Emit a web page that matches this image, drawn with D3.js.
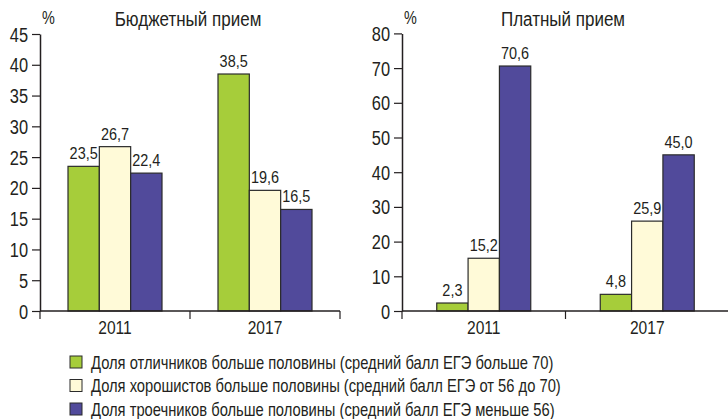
<!DOCTYPE html>
<html>
<head>
<meta charset="utf-8">
<script src="https://cdn.jsdelivr.net/npm/d3@7"></script>
<style>
  body { margin: 0; background: #fff; }
  text { font-family: "Liberation Sans Narrow", "Arial Narrow", "Liberation Sans", sans-serif; fill: #231f20; }
</style>
</head>
<body>
<div id="chart"></div>
<script>
var years = ["2011", "2017"];
var seriesNames = [
  "Доля отличников больше половины (средний балл ЕГЭ больше 70)",
  "Доля хорошистов больше половины (средний балл ЕГЭ от 56 до 70)",
  "Доля троечников больше половины (средний балл ЕГЭ меньше 56)"
];
var colors = ["#a6cd3a", "#fffad8", "#514a9b"];

// values per year: [отличники, хорошисты, троечники]
var budget = [[23.5, 26.7, 22.4], [38.5, 19.6, 16.5]];
var paid = [[2.3, 15.2, 70.6], [4.8, 25.9, 45.0]];

var budgetTicks = [0, 5, 10, 15, 20, 25, 30, 35, 40, 45];
var paidTicks = [0, 10, 20, 30, 40, 50, 60, 70, 80];

var svg = d3.select("#chart").append("svg")
  .attr("width", 728)
  .attr("height", 419);

function fmt(v) {
  return v.toFixed(1).replace(".", ",");
}

// no narrow font installed, so squeeze labels horizontally
function squeeze(sel, k) {
  sel.each(function () {
    var len = this.getComputedTextLength();
    d3.select(this)
      .attr("textLength", len * k)
      .attr("lengthAdjust", "spacingAndGlyphs");
  });
}

function drawPanel(opts) {
  var x = d3.scaleBand().domain(years).range([opts.x0, opts.x1]);
  var inner = d3.scaleBand().domain([0, 1, 2])
    .range([x.bandwidth() / 2 - 47, x.bandwidth() / 2 + 47]);
  var y = d3.scaleLinear().domain([0, opts.max]).range([311, opts.top]);

  var g = svg.append("g");

  // y axis
  var yAxis = g.append("g")
    .attr("transform", "translate(" + opts.x0 + ",0)")
    .call(d3.axisLeft(y).tickValues(opts.ticks).tickSize(8).tickPadding(4).tickSizeOuter(0));
  yAxis.select(".domain").attr("stroke", "#231f20").attr("stroke-width", 1.5);
  yAxis.selectAll(".tick line").attr("stroke", "#231f20").attr("stroke-width", 1.2);
  yAxis.selectAll(".tick text")
    .style("font-size", "20px")
    .attr("font-family", null)
    .attr("dy", "0.35em")
    .call(squeeze, 0.82);

  // bars
  var groups = g.selectAll(".grp")
    .data(years)
    .enter().append("g")
    .attr("transform", function (d) { return "translate(" + x(d) + ",0)"; });

  groups.selectAll("rect")
    .data(function (d, i) { return opts.data[i]; })
    .enter().append("rect")
    .attr("x", function (d, i) { return inner(i); })
    .attr("width", inner.bandwidth())
    .attr("y", function (d) { return y(d); })
    .attr("height", function (d) { return y(0) - y(d); })
    .attr("fill", function (d, i) { return colors[i]; })
    .attr("stroke", "#2b2b2b")
    .attr("stroke-width", 1.2);

  groups.selectAll(".val")
    .data(function (d, i) { return opts.data[i]; })
    .enter().append("text")
    .attr("class", "val")
    .attr("x", function (d, i) { return inner(i) + inner.bandwidth() / 2; })
    .attr("y", function (d) { return y(d) - 7; })
    .attr("text-anchor", "middle")
    .style("font-size", "17px")
    .text(fmt)
    .call(squeeze, 0.85);

  // x axis
  var xAxis = g.append("g")
    .attr("transform", "translate(0,311)")
    .call(d3.axisBottom(x).tickSize(0).tickPadding(10));
  xAxis.select(".domain").remove();
  xAxis.selectAll(".tick text")
    .attr("font-family", null)
    .style("font-size", "19px")
    .call(squeeze, 0.82);
  xAxis.append("line")
    .attr("x1", opts.x0).attr("x2", opts.x1)
    .attr("stroke", "#231f20").attr("stroke-width", 1.5);
  xAxis.selectAll(".sep")
    .data(years.map(function (d) { return x(d); }).concat([opts.x1]))
    .enter().append("line")
    .attr("x1", function (d) { return d; })
    .attr("x2", function (d) { return d; })
    .attr("y1", 0).attr("y2", 8)
    .attr("stroke", "#231f20").attr("stroke-width", 1.2);

  // titles
  g.append("text")
    .attr("x", opts.x0 + 2)
    .attr("y", 24)
    .style("font-size", "18px")
    .text("%")
    .call(squeeze, 0.8);
  g.append("text")
    .attr("x", opts.titleX)
    .attr("y", 26)
    .attr("text-anchor", "middle")
    .style("font-size", "20px")
    .text(opts.title)
    .call(squeeze, 0.85);
}

drawPanel({ x0: 40, x1: 340, top: 34, max: 45, ticks: budgetTicks, data: budget, title: "Бюджетный прием", titleX: 188 });
drawPanel({ x0: 402, x1: 729, top: 33.4, max: 80, ticks: paidTicks, data: paid, title: "Платный прием", titleX: 563 });

// legend
var legend = svg.append("g").selectAll("g")
  .data(seriesNames)
  .enter().append("g")
  .attr("transform", function (d, i) { return "translate(70," + (356 + i * 23.5) + ")"; });

legend.append("rect")
  .attr("width", 12).attr("height", 12)
  .attr("fill", function (d, i) { return colors[i]; })
  .attr("stroke", "#2b2b2b")
  .attr("stroke-width", 1);

legend.append("text")
  .attr("x", 21)
  .attr("y", 6)
  .attr("dy", "0.35em")
  .style("font-size", "19px")
  .text(function (d) { return d; })
  .call(squeeze, 0.775);
</script>
</body>
</html>
